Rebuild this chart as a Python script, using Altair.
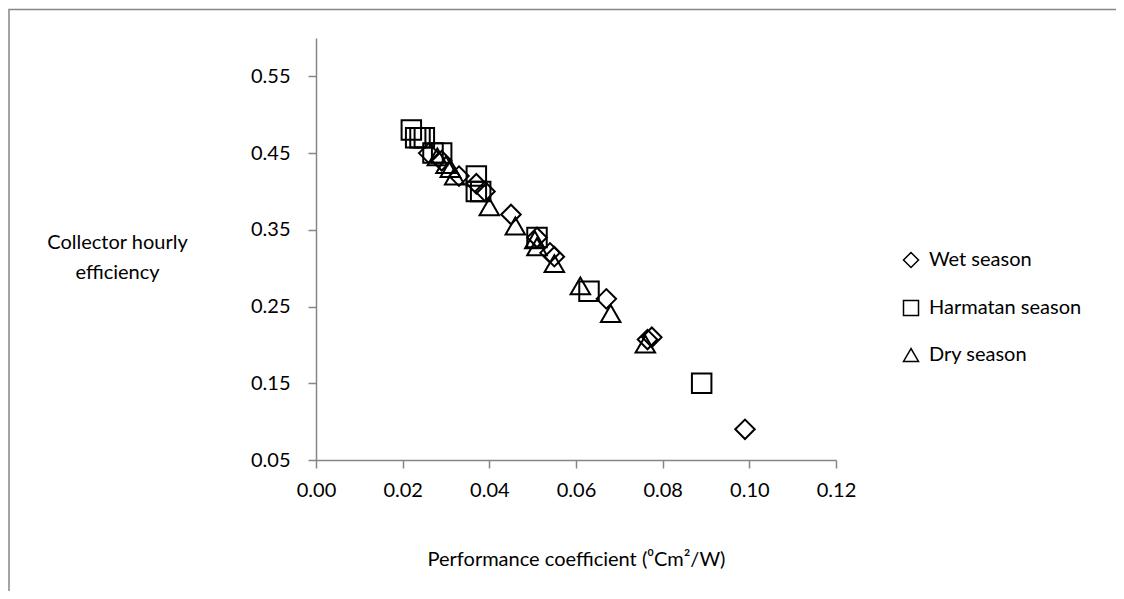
import altair as alt
import pandas as pd

# ---- data ----
seasons = ["Wet season", "Harmatan season", "Dry season"]

wet_x = [0.026, 0.029, 0.033, 0.037, 0.039, 0.045, 0.051, 0.054, 0.055, 0.067, 0.0765, 0.0775, 0.099]
wet_y = [0.45, 0.44, 0.42, 0.41, 0.40, 0.37, 0.34, 0.32, 0.315, 0.26, 0.207, 0.21, 0.09]

harm_x = [0.022, 0.023, 0.024, 0.025, 0.027, 0.029, 0.037, 0.037, 0.038, 0.051, 0.063, 0.089]
harm_y = [0.48, 0.47, 0.47, 0.47, 0.45, 0.45, 0.42, 0.40, 0.40, 0.34, 0.27, 0.15]

dry_x = [0.028, 0.030, 0.031, 0.032, 0.040, 0.046, 0.0505, 0.051, 0.055, 0.061, 0.068, 0.076]
dry_y = [0.445, 0.435, 0.43, 0.42, 0.38, 0.355, 0.337, 0.328, 0.306, 0.277, 0.241, 0.201]

x_ticks = [0.00, 0.02, 0.04, 0.06, 0.08, 0.10, 0.12]
y_ticks = [0.05, 0.15, 0.25, 0.35, 0.45, 0.55]

rows = []
for s, xs, ys in [(seasons[0], wet_x, wet_y), (seasons[1], harm_x, harm_y), (seasons[2], dry_x, dry_y)]:
    for a, b in zip(xs, ys):
        rows.append({"season": s, "coef": a, "eff": b})
df = pd.DataFrame(rows)
df["order"] = df["season"].map({s: i for i, s in enumerate(seasons)})

FONT = "Lato"
GREY = "#868686"

points = alt.Chart(df).mark_point(filled=False, strokeWidth=2, opacity=1, color="black", size=380).encode(
    x=alt.X("coef:Q",
            scale=alt.Scale(domain=[0, 0.12], nice=False, zero=False),
            axis=alt.Axis(values=x_ticks, format=".2f", grid=False, labelFlush=False,
                          title="Performance coefficient (\u2070Cm\u00b2/W)",
                          titleY=105, titleBaseline="alphabetic",
                          labelPadding=12)),
    y=alt.Y("eff:Q",
            scale=alt.Scale(domain=[0.05, 0.60], nice=False, zero=False),
            axis=alt.Axis(values=y_ticks, format=".2f", grid=False, labelFlush=False,
                          title=["Collector hourly", "efficiency"],
                          titleAngle=0, titleAlign="center", titleBaseline="alphabetic",
                          titleX=-199, titleY=210, titleLineHeight=30,
                          labelPadding=18)),
    shape=alt.Shape("season:N",
                    scale=alt.Scale(domain=seasons, range=["diamond", "square", "triangle-up"]),
                    legend=alt.Legend(title=None, orient="none", legendX=585, legendY=212,
                                      symbolSize=225, symbolStrokeWidth=1.5,
                                      symbolStrokeColor="black", symbolFillColor="transparent",
                                      labelFontSize=20, labelFont=FONT, labelColor="black",
                                      rowPadding=26, labelOffset=8)),
    order=alt.Order("order:Q"),
)

border = alt.Chart(alt.Data(values=[{"a": 1}])).mark_rect(
    filled=False, stroke=GREY, strokeWidth=1.5
).encode(
    x=alt.value(-307), x2=alt.value(830), y=alt.value(-28.5), y2=alt.value(600)
)

chart = alt.layer(border, points).properties(
    width=520, height=422,
    autosize=alt.AutoSizeParams(type="none"),
    padding={"left": 308, "top": 30, "right": 280, "bottom": 131},
    background="white",
).configure_view(stroke=None).configure_axis(
    domainColor=GREY, domainWidth=1.5, tickColor=GREY, tickWidth=1.5, tickSize=8,
    labelFont=FONT, labelFontSize=20, labelColor="black",
    titleFont=FONT, titleFontSize=20, titleColor="black", titleFontWeight="normal",
)

chart.save("out.html", embed_options={"renderer": "svg", "actions": False})
